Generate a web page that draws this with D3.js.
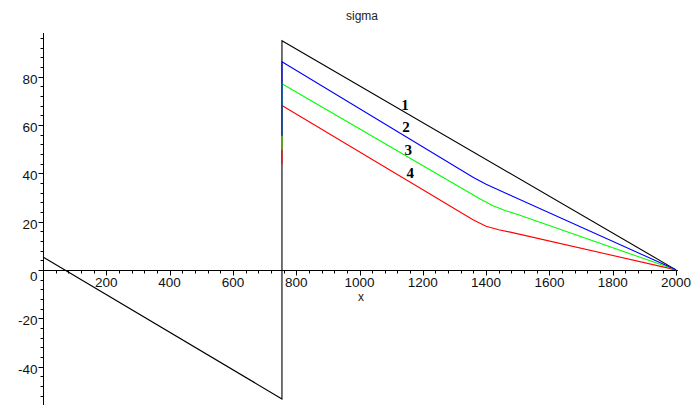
<!DOCTYPE html>
<html>
<head>
<meta charset="utf-8">
<script src="https://cdn.jsdelivr.net/npm/d3@7"></script>
<style>
html,body{margin:0;padding:0;background:#fff;}
svg{display:block;}
</style>
</head>
<body>
<svg id="chart" width="694" height="405"></svg>
<script>
const titleText = "sigma";
const xLabelText = "x";
const xTicks = [200, 400, 600, 800, 1000, 1200, 1400, 1600, 1800, 2000];
const yTicks = [-40, -20, 0, 20, 40, 60, 80];
const xMinor = d3.range(40, 2001, 40);
const yMinor = d3.range(-56, 97, 4);

const curve1X = [0, 755, 755, 2000];
const curve1Y = [5.3, -53.4, 94.8, 0];
const curve4X = [755, 755, 1360, 1400, 1440, 1480, 2000];
const curve4Y = [43.7, 68, 20.6, 18, 16.6, 15.5, 0];
const curve3X = [755, 755, 1380, 1420, 1460, 1500, 2000];
const curve3Y = [49.7, 77, 29.4, 26.6, 24.6, 22.9, 0];
const curve2X = [755, 755, 1360, 1400, 1440, 1480, 2000];
const curve2Y = [55.5, 86.1, 38.2, 35.4, 33, 30.7, 0];

const seriesColors = ["#000000", "#ff0000", "#00ff00", "#0000ff"];

const labelText = ["1", "2", "3", "4"];
const labelX = [1144, 1147, 1154, 1160];
const labelY = [68.3, 59.3, 49.4, 40.0];

const svg = d3.select("#chart");
const x = d3.scaleLinear().domain([0, 2000]).range([43, 676]);
const y = d3.scaleLinear().domain([-56, 98]).range([405.2, 33]);

const font = "'Liberation Sans', Arial, sans-serif";

// axes lines
svg.append("line").attr("x1", x(0)).attr("x2", x(2006)).attr("y1", Math.round(y(0)) + 0.5).attr("y2", Math.round(y(0)) + 0.5).attr("stroke", "#000");
svg.append("line").attr("x1", x(0) + 0.5).attr("x2", x(0) + 0.5).attr("y1", y(98)).attr("y2", 405).attr("stroke", "#000");

const y0 = Math.round(y(0)) + 0.5;
const x0 = Math.round(x(0)) + 0.5;

// x minor ticks
svg.append("g").selectAll("line").data(xMinor).join("line")
  .attr("x1", d => Math.round(x(d)) + 0.5).attr("x2", d => Math.round(x(d)) + 0.5)
  .attr("y1", y0).attr("y2", d => y0 + (d % 200 === 0 ? 5 : 3))
  .attr("stroke", "#000");
// y minor ticks
svg.append("g").selectAll("line").data(yMinor).join("line")
  .attr("y1", d => Math.round(y(d)) + 0.5).attr("y2", d => Math.round(y(d)) + 0.5)
  .attr("x1", x0).attr("x2", d => x0 - (d % 20 === 0 ? 5 : 3))
  .attr("stroke", "#000");

// x tick labels
svg.append("g").selectAll("text").data(xTicks).join("text")
  .attr("x", d => x(d)).attr("y", y0 + 16)
  .attr("text-anchor", "middle")
  .attr("font-family", font).attr("font-size", "13.5px").attr("fill", "#111")
  .text(d => d);
// y tick labels
svg.append("g").selectAll("text").data(yTicks).join("text")
  .attr("x", x0 - 6).attr("y", d => y(d) + (d === 0 ? 11 : 7))
  .attr("text-anchor", "end")
  .attr("font-family", font).attr("font-size", "13.5px").attr("fill", "#111")
  .text(d => d);

// title & x label
svg.append("text").attr("x", 362).attr("y", 20).attr("text-anchor", "middle")
  .attr("font-family", font).attr("font-size", "12px").attr("fill", "#222").text(titleText);
svg.append("text").attr("x", 361).attr("y", 301).attr("text-anchor", "middle")
  .attr("font-family", font).attr("font-size", "12px").attr("fill", "#222").text(xLabelText);

// curves
const line = d3.line().x(d => x(d[0])).y(d => y(d[1]));
const curves = [
  d3.zip(curve1X, curve1Y),
  d3.zip(curve4X, curve4Y),
  d3.zip(curve3X, curve3Y),
  d3.zip(curve2X, curve2Y)
];
svg.append("g").selectAll("path").data(curves).join("path")
  .attr("d", d => line(d))
  .attr("fill", "none")
  .attr("stroke", (d, i) => seriesColors[i])
  .attr("stroke-width", 1.1);

// curve labels
svg.append("g").selectAll("text").data(labelText).join("text")
  .attr("x", (d, i) => x(labelX[i])).attr("y", (d, i) => y(labelY[i]) + 5)
  .attr("text-anchor", "middle")
  .attr("font-family", "'Liberation Serif', 'Times New Roman', serif")
  .attr("font-weight", "bold").attr("font-size", "15px").attr("fill", "#000")
  .text(d => d);
</script>
</body>
</html>
